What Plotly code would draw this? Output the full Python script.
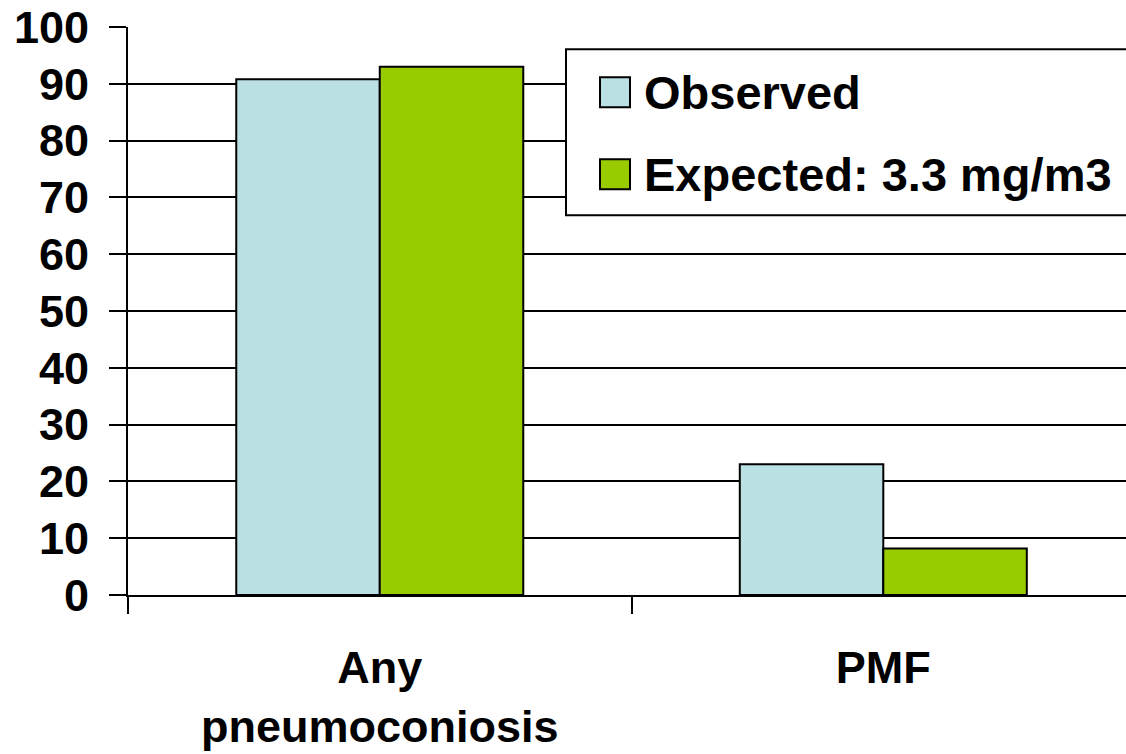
import plotly.graph_objects as go

# Chart data
categories = ["Any<br>pneumoconiosis", "PMF"]
observed = [90.8, 23.0]
expected = [93.0, 8.2]
series_names = ["Observed", "Expected: 3.3 mg/m3"]
series_colors = ["#BBE0E3", "#99CC00"]
y_ticks = [0, 10, 20, 30, 40, 50, 60, 70, 80, 90, 100]

FONT = "Liberation Sans, Arial, sans-serif"

fig = go.Figure()
for name, vals, color in zip(series_names, [observed, expected], series_colors):
    fig.add_trace(go.Bar(
        x=categories, y=vals, name=name,
        marker=dict(color=color, line=dict(color="black", width=2)),
        showlegend=False,
    ))

fig.update_layout(
    width=1126, height=754,
    margin=dict(l=128, r=0, t=27, b=159),
    paper_bgcolor="white", plot_bgcolor="white",
    barmode="group", bargap=0.43, bargroupgap=0,
    font=dict(family=FONT, color="black"),
)

fig.update_xaxes(
    type="category", range=[-0.5, 1.482],
    showline=True, linecolor="black", linewidth=2,
    ticks="outside", tickson="boundaries", ticklen=17, tickwidth=2, tickcolor="black",
    tickfont=dict(family=FONT, size=45, color="black", weight="bold"),
    ticklabelstandoff=32,
    showgrid=False, zeroline=False,
)
fig.update_yaxes(
    range=[0, 100], tickvals=y_ticks,
    showline=True, linecolor="black", linewidth=2,
    ticks="outside", ticklen=17, tickwidth=2, tickcolor="black",
    tickfont=dict(family=FONT, size=45, color="black", weight="bold"),
    ticklabelstandoff=11,
    showgrid=True, gridcolor="black", gridwidth=2,
    zeroline=False,
)

# Legend: framed box with colour swatches and series labels
plot_left, plot_w = 128, 998
plot_bottom, plot_h = 595, 568.3

def px_x(px):
    return (px - plot_left) / plot_w

def px_y(py):
    return (plot_bottom - py) / plot_h

fig.add_shape(type="rect", xref="paper", yref="paper",
              x0=px_x(566), x1=1.02, y0=px_y(215), y1=px_y(49),
              line=dict(color="black", width=2), fillcolor="white", layer="above")

rows = [(77, 107, 92), (159, 189, 174)]
for (top, bot, mid), name, color in zip(rows, series_names, series_colors):
    fig.add_shape(type="rect", xref="paper", yref="paper",
                  x0=px_x(600), x1=px_x(630), y0=px_y(bot), y1=px_y(top),
                  line=dict(color="black", width=2), fillcolor=color, layer="above")
    fig.add_annotation(xref="paper", yref="paper", x=px_x(642), y=px_y(mid),
                       xanchor="left", yanchor="middle", showarrow=False,
                       text=name,
                       font=dict(family=FONT, size=47, color="black", weight="bold"))

fig.write_html("out.html", config={"displayModeBar": False})
